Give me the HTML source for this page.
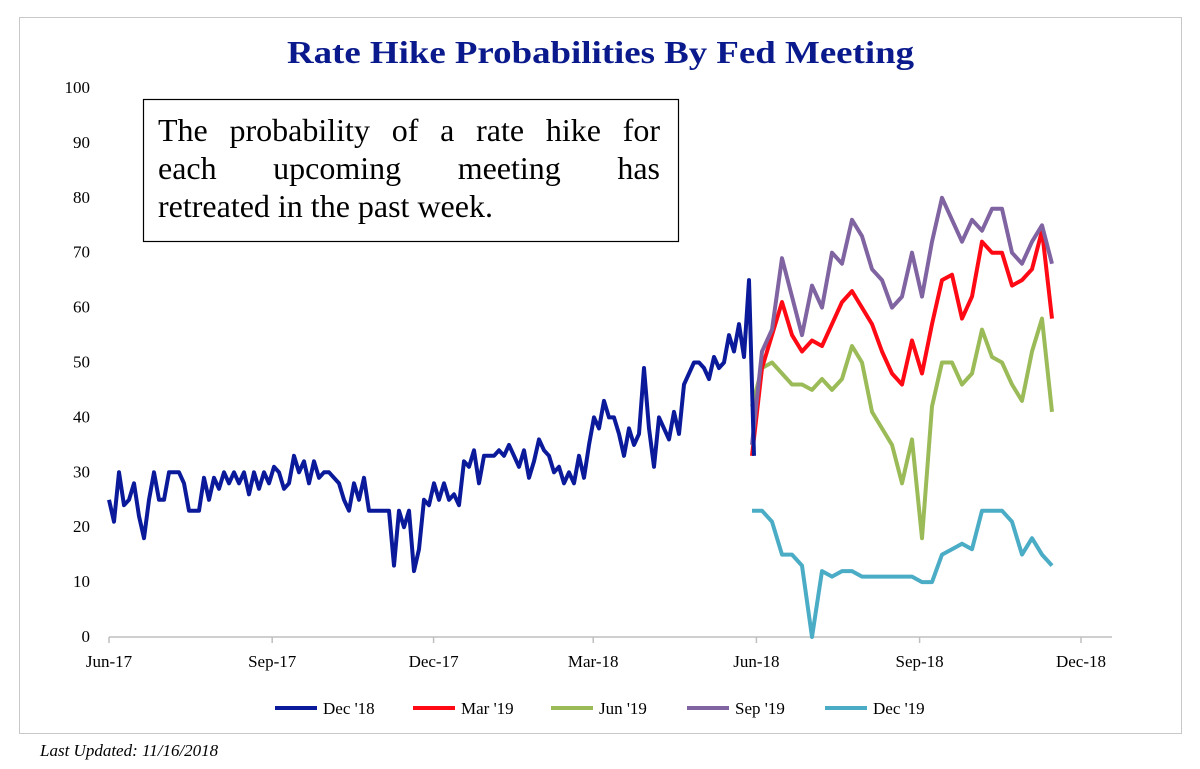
<!DOCTYPE html>
<html><head><meta charset="utf-8"><style>
body{margin:0;background:#fff;width:1200px;height:769px;overflow:hidden;font-family:"Liberation Serif",serif;position:relative}
#note{position:absolute;left:158px;top:111px;width:502px;font-size:32px;line-height:38px;color:#000;font-family:"Liberation Serif",serif}
#note span{display:block;text-align:justify;text-align-last:justify;white-space:nowrap}
#note span.l{text-align-last:left}
</style></head><body>
<svg width="1200" height="769" xmlns="http://www.w3.org/2000/svg" style="position:absolute;left:0;top:0">
<rect x="19.5" y="17.5" width="1162" height="716" fill="#fff" stroke="#c8c8c8"/>
<text x="287" y="63" textLength="627" lengthAdjust="spacingAndGlyphs" font-size="32" font-weight="bold" fill="#0a1a8c" font-family="Liberation Serif,serif">Rate Hike Probabilities By Fed Meeting</text>
<g id="axes"></g>
<g id="series"></g>
<rect x="143.5" y="99.5" width="535" height="142" fill="#fff" stroke="#000" stroke-width="1.2"/>
<g id="legend"></g>
<text x="40" y="756" font-size="17" font-style="italic" fill="#000">Last Updated: 11/16/2018</text>
</svg>
<div id="note"><span>The probability of a rate hike for</span><span>each upcoming meeting has</span><span class="l">retreated in the past week.</span></div>
<script>
const yTicks=[0,10,20,30,40,50,60,70,80,90,100];
const xTickLabels=["Jun-17","Sep-17","Dec-17","Mar-18","Jun-18","Sep-18","Dec-18"];
const xTickDays=[0,92,183,273,365,457,548];
const seriesNames=["Dec '18","Mar '19","Jun '19","Sep '19","Dec '19"];
const dec18=[25,21,30,24,25,28,22,18,25,30,25,25,30,30,30,28,23,23,23,29,25,29,27,30,28,30,28,30,26,30,27,30,28,31,30,27,28,33,30,32,28,32,29,30,30,29,28,25,23,28,25,29,23,23,23,23,23,13,23,20,23,12,16,25,24,28,25,28,25,26,24,32,31,34,28,33,33,33,34,33,35,33,31,34,29,32,36,34,33,30,31,28,30,28,33,29,35,40,38,43,40,40,37,33,38,35,37,49,38,31,40,38,36,41,37,46,48,50,50,49,47,51,49,50,55,52,57,51,65,33];
const mar19=[33,49,55,61,55,52,54,53,57,61,63,60,57,52,48,46,54,48,57,65,66,58,62,72,70,70,64,65,67,74,58];
const jun19=[42,49,50,48,46,46,45,47,45,47,53,50,41,38,35,28,36,18,42,50,50,46,48,56,51,50,46,43,52,58,41];
const sep19=[35,52,56,69,62,55,64,60,70,68,76,73,67,65,60,62,70,62,72,80,76,72,76,74,78,78,70,68,72,75,68];
const dec19=[23,23,21,15,15,13,0,12,11,12,12,11,11,11,11,11,11,10,10,15,16,17,16,23,23,23,21,15,18,15,13];
const colors=["#0a1a9a","#ff0a14","#9bbb59","#8064a2","#4bacc6"];
const X0=109,PXD=(1081-109)/548,Y0=637,PXV=5.49;
const xs=d=>X0+d*PXD, ys=v=>Y0-v*PXV;
const NS="http://www.w3.org/2000/svg";
function mk(t,a,p){const e=document.createElementNS(NS,t);for(const k in a)e.setAttribute(k,a[k]);p.appendChild(e);return e;}
const ax=document.getElementById('axes');
const xl=mk('line',{x1:109,y1:637,x2:1112,y2:637,stroke:'#bfbfbf','stroke-width':1.5},ax);


yTicks.forEach(v=>{const t=mk('text',{x:90,y:ys(v)+5,'text-anchor':'end','font-size':17},ax);t.textContent=v;

});
xTickLabels.forEach((s,i)=>{const x=xs(xTickDays[i]);
const tk=mk('line',{x1:x,y1:637,x2:x,y2:643,stroke:'#bfbfbf','stroke-width':1.5},ax);


const t=mk('text',{x:x,y:667,'text-anchor':'middle','font-size':17},ax);t.textContent=s;

});
const sg=document.getElementById('series');
function draw(vals,start,step,col,name){const pts=vals.map((v,i)=>xs(start+i*step).toFixed(1)+','+ys(v).toFixed(1)).join(' ');
const p=mk('polyline',{points:pts,fill:'none',stroke:col,'stroke-width':4,'stroke-linejoin':'round'},sg);

}
const s1=5/PXD, s2=10/PXD, st2=(752-109)/PXD;
draw(dec19,st2,s2,colors[4],'line-dec-19');
draw(jun19,st2,s2,colors[2],'line-jun-19');
draw(mar19,st2,s2,colors[1],'line-mar-19');
draw(sep19,st2,s2,colors[3],'line-sep-19');
draw(dec18,0,s1,colors[0],'line-dec-18');
const lg=document.getElementById('legend');
const lx=[275,413,551,687,825];
seriesNames.forEach((n,i)=>{const g=mk('g',{},lg);


mk('line',{x1:lx[i],y1:708,x2:lx[i]+42,y2:708,stroke:colors[i],'stroke-width':4},g);
const t=mk('text',{x:lx[i]+48,y:714,'font-size':17},g);t.textContent=n;});
</script>
</body></html>
